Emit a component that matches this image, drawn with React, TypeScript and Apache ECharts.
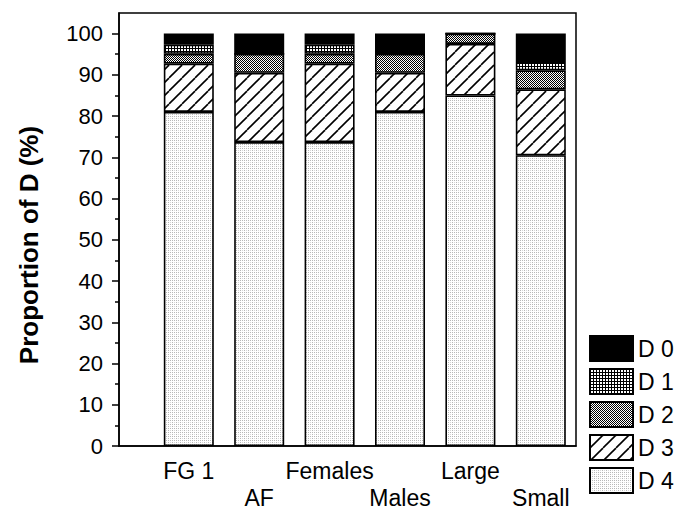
import React, { useEffect, useRef } from "react";
import * as echarts from "echarts";

const categories = ["FG 1", "AF", "Females", "Males", "Large", "Small"];
const seriesNames = ["D 4", "D 3", "D 2", "D 1", "D 0"];
const d4 = [81, 73.7, 73.7, 81, 85, 70.5];
const d3 = [11.7, 16.8, 19, 9.5, 12.5, 16];
const d2 = [2.4, 4.6, 2.4, 4.6, 2.5, 4.6];
const d1 = [2.2, 0, 2.2, 0, 0, 2];
const d0 = [2.7, 4.9, 2.7, 4.9, 0, 6.9];
const yTicks = [0, 10, 20, 30, 40, 50, 60, 70, 80, 90, 100];
const yMinorTicks = [5, 15, 25, 35, 45, 55, 65, 75, 85, 95];
const legendOrder = ["D 0", "D 1", "D 2", "D 3", "D 4"];

const FONT = "'Liberation Sans', Arial, sans-serif";

function makePattern(w: number, h: number, draw: (ctx: CanvasRenderingContext2D) => void) {
  const c = document.createElement("canvas");
  c.width = w;
  c.height = h;
  const ctx = c.getContext("2d")!;
  ctx.fillStyle = "#fff";
  ctx.fillRect(0, 0, w, h);
  draw(ctx);
  return { image: c, repeat: "repeat", imageWidth: w, imageHeight: h } as any;
}

export default function App() {
  const ref = useRef<HTMLDivElement>(null);
  useEffect(() => {
    if (!ref.current) return;
    const chart = echarts.init(ref.current, undefined, { renderer: "svg" });

    const pD4 = makePattern(4, 4, (ctx) => {
      ctx.fillStyle = "#b8b8b8";
      ctx.fillRect(0, 0, 1, 1);
      ctx.fillRect(2, 0, 1, 1);
      ctx.fillRect(0, 2, 1, 1);
      ctx.fillStyle = "#d8d8d8";
      ctx.fillRect(2, 2, 1, 1);
    });
    const pD3 = makePattern(13, 13, (ctx) => {
      ctx.strokeStyle = "#000";
      ctx.lineWidth = 1.6;
      for (const k of [-13, 0, 13]) {
        ctx.beginPath();
        ctx.moveTo(k, 13);
        ctx.lineTo(k + 13, 0);
        ctx.stroke();
      }
    });
    const pD2 = makePattern(2, 2, (ctx) => {
      ctx.fillStyle = "#000";
      ctx.fillRect(0, 0, 1, 1);
      ctx.fillRect(1, 1, 1, 1);
    });
    const pD1 = makePattern(3, 3, (ctx) => {
      ctx.fillStyle = "#000";
      ctx.fillRect(0, 0, 3, 1);
      ctx.fillRect(0, 0, 1, 3);
    });
    const patterns = [pD4, pD3, pD2, pD1, "#000"];
    const values = [d4, d3, d2, d1, d0];

    const series = seriesNames.map((name, s) => ({
      name,
      type: "bar",
      stack: "total",
      xAxisIndex: 1,
      yAxisIndex: 2,
      barWidth: 50,
      data: values[s],
      itemStyle: { color: patterns[s], borderColor: "#000", borderWidth: 1.6 },
    }));

    const gridTop = 13;
    const gridBottom = 65;
    const gridRight = 104;

    chart.setOption({
      animation: false,
      textStyle: { fontFamily: FONT },
      grid: [
        {
          left: 119,
          top: gridTop,
          right: gridRight,
          bottom: gridBottom,
          show: true,
          borderColor: "#000",
          borderWidth: 1.5,
          backgroundColor: "transparent",
        },
        {
          left: 153.6,
          top: gridTop,
          right: gridRight,
          bottom: gridBottom,
        },
      ],
      xAxis: [
        {
          gridIndex: 0,
          type: "value",
          min: 0,
          max: 1,
          splitLine: { show: false },
          axisTick: { show: false },
          axisLabel: { show: false },
          axisLine: { show: true, lineStyle: { color: "#000", width: 1.5 } },
        },
        {
          gridIndex: 1,
          type: "category",
          data: categories,
          splitLine: { show: false },
          axisTick: { show: false },
          axisLine: { show: false },
          axisLabel: {
            interval: 0,
            formatter: (v: string, i: number) => (i % 2 === 1 ? "\n" + v : v),
            color: "#000",
            fontSize: 23,
            fontFamily: FONT,
            lineHeight: 27,
            margin: 11,
          },
        },
      ],
      yAxis: [
        {
          gridIndex: 0,
          type: "value",
          min: 0,
          max: 105,
          interval: 10,
          splitLine: { show: false },
          axisLine: { show: true, lineStyle: { color: "#000", width: 1.5 } },
          axisTick: {
            show: true,
            customValues: yTicks,
            length: 7,
            lineStyle: { color: "#000", width: 1.5 },
          },
          axisLabel: {
            customValues: yTicks,
            color: "#000",
            fontSize: 22,
            fontFamily: FONT,
            margin: 16,
          },
        },
        {
          gridIndex: 0,
          type: "value",
          min: 0,
          max: 105,
          position: "left",
          splitLine: { show: false },
          axisLine: { show: false },
          axisTick: {
            show: true,
            customValues: yMinorTicks,
            length: 4,
            lineStyle: { color: "#000", width: 1.5 },
          },
          axisLabel: { show: false },
        },
        {
          gridIndex: 1,
          type: "value",
          min: 0,
          max: 105,
          show: false,
          splitLine: { show: false },
        },
      ],
      legend: {
        orient: "vertical",
        left: 589,
        top: 335,
        padding: 0,
        itemWidth: 43,
        itemHeight: 25,
        itemGap: 6,
        data: legendOrder,
        icon: "rect",
        itemStyle: { borderColor: "#000", borderWidth: 2 },
        textStyle: { color: "#000", fontSize: 23, fontFamily: FONT, overflow: "none" },
      },
      graphic: [
        {
          type: "text",
          x: 29,
          y: 245,
          rotation: Math.PI / 2,
          style: {
            text: "Proportion of D (%)",
            font: "bold 26px " + FONT,
            fill: "#000",
            textAlign: "center",
            textVerticalAlign: "middle",
          },
        },
      ],
      series,
    });
    return () => chart.dispose();
  }, []);
  return (
    <div
      ref={ref}
      style={{ width: 680, height: 511, position: "absolute", left: 0, top: 0 }}
    />
  );
}
